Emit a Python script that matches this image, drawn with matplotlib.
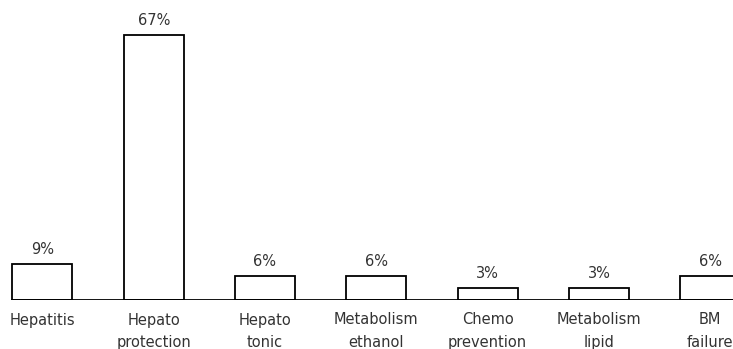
import matplotlib
matplotlib.use('Agg')
from matplotlib import pyplot as plt

categories = ['Hepatitis', 'Hepato\nprotection', 'Hepato\ntonic', 'Metabolism\nethanol',
              'Chemo\nprevention', 'Metabolism\nlipid', 'BM\nfailure']
values = [9, 67, 6, 6, 3, 3, 6]
labels = ['9%', '67%', '6%', '6%', '3%', '3%', '6%']

plt.rcParams['font.family'] = ['DejaVu Sans']

fig = plt.figure(figsize=(7.33, 3.49), dpi=100)
ax = fig.add_axes([0, 49 / 349, 1, 300 / 349])

x = list(range(len(categories)))
bar_w = 0.54
ax.bar(x, values, width=bar_w, facecolor='white', edgecolor='black', linewidth=1.3, zorder=2)

for xi, v, t in zip(x, values, labels):
    ax.annotate(t, (xi, v), xytext=(0, 5), textcoords='offset points',
                ha='center', va='bottom', fontsize=10.5, color='#333333')

# baseline under the bars, starting at the first bar's left edge
ax.plot([x[0] - bar_w / 2, x[-1] + 1], [0, 0], color='black', linewidth=1.3, zorder=3)

step = 111.3
ax.set_xlim(-42.4 / step, (733 - 42.4) / step)
ax.set_ylim(0, 67 * 300 / 265)
ax.set_xticks(x)
ax.set_xticklabels(categories, fontsize=10.5, color='#333333', linespacing=1.6)
ax.tick_params(axis='x', length=0, pad=9)
ax.set_yticks([])
for s in ax.spines.values():
    s.set_visible(False)

fig.savefig('out.png', dpi=100)
